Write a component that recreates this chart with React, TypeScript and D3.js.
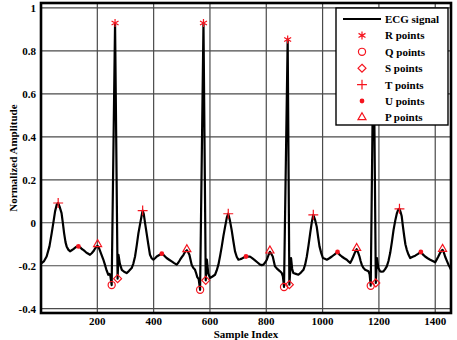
import React, { useEffect, useRef } from 'react';
import * as d3 from 'd3';

// ECG trace: sample index and normalized amplitude
const ecgSample = [
  0, 10, 20, 30, 38, 45, 50, 56, 61, 66, 73, 78, 82, 87, 91, 97, 103, 109, 115, 122,
  128, 133, 140, 145, 150, 158, 165, 174, 180, 186, 192, 197, 201, 206, 210, 215, 221, 227, 233, 239,
  243, 246, 251, 263, 272, 275, 280, 287, 295, 304, 312, 322, 328, 334, 340, 346, 352, 358, 361, 365,
  370, 375, 381, 387, 393, 399, 405, 411, 420, 429, 437, 446, 455, 464, 473, 482, 488, 494, 500, 506,
  512, 518, 523, 527, 531, 535, 541, 547, 551, 555, 560, 565, 577, 585, 589, 594, 600, 609, 618, 624,
  630, 636, 642, 648, 654, 660, 665, 671, 677, 683, 689, 695, 701, 707, 713, 720, 728, 735, 742, 751,
  760, 769, 778, 784, 790, 796, 802, 808, 813, 818, 823, 827, 831, 837, 843, 849, 855, 859, 863, 876,
  882, 888, 892, 896, 905, 914, 923, 932, 938, 944, 950, 956, 962, 967, 973, 979, 984, 989, 995, 1001,
  1008, 1015, 1024, 1033, 1043, 1053, 1060, 1068, 1077, 1086, 1092, 1098, 1104, 1109, 1115, 1121, 1126, 1131, 1135, 1139,
  1145, 1151, 1157, 1163, 1167, 1171, 1181, 1189, 1193, 1198, 1204, 1210, 1216, 1222, 1228, 1234, 1240, 1246, 1252, 1258,
  1264, 1269, 1273, 1277, 1281, 1285, 1290, 1294, 1299, 1305, 1311, 1320, 1329, 1339, 1349, 1356, 1364, 1373, 1382, 1391,
  1400, 1405, 1411, 1418, 1426, 1431, 1435, 1441, 1447, 1452, 1456
];
const ecgAmp = [
  -0.19, -0.18, -0.157, -0.11, -0.048, 0.01, 0.053, 0.085, 0.092, 0.075, 0.045, -0.005, -0.048, -0.09, -0.11, -0.125, -0.133, -0.128, -0.123, -0.115,
  -0.11, -0.11, -0.115, -0.122, -0.126, -0.135, -0.142, -0.149, -0.142, -0.133, -0.12, -0.11, -0.108, -0.118, -0.132, -0.149, -0.17, -0.195, -0.222, -0.242,
  -0.238, -0.245, -0.29, 0.93, -0.26, -0.149, -0.19, -0.219, -0.228, -0.234, -0.225, -0.211, -0.19, -0.157, -0.105, -0.048, -0.005, 0.037, 0.057, 0.04,
  -0.005, -0.048, -0.1, -0.149, -0.165, -0.172, -0.165, -0.157, -0.15, -0.144, -0.152, -0.164, -0.172, -0.18, -0.188, -0.195, -0.185, -0.172, -0.16, -0.149,
  -0.135, -0.128, -0.138, -0.149, -0.172, -0.195, -0.21, -0.219, -0.235, -0.253, -0.262, -0.312, 0.93, -0.268, -0.172, -0.235, -0.257, -0.25, -0.242, -0.222,
  -0.195, -0.155, -0.11, -0.06, -0.017, 0.025, 0.042, 0.01, -0.033, -0.085, -0.133, -0.158, -0.172, -0.17, -0.167, -0.162, -0.157, -0.158, -0.157, -0.166,
  -0.175, -0.185, -0.195, -0.197, -0.195, -0.185, -0.172, -0.15, -0.135, -0.145, -0.157, -0.18, -0.203, -0.212, -0.219, -0.226, -0.234, -0.25, -0.299, 0.853,
  -0.288, -0.164, -0.215, -0.234, -0.238, -0.242, -0.232, -0.219, -0.195, -0.157, -0.105, -0.048, 0.005, 0.037, 0.015, -0.017, -0.065, -0.11, -0.14, -0.164,
  -0.168, -0.172, -0.165, -0.157, -0.147, -0.136, -0.148, -0.157, -0.165, -0.172, -0.18, -0.187, -0.172, -0.157, -0.138, -0.123, -0.138, -0.157, -0.178, -0.195,
  -0.21, -0.219, -0.222, -0.226, -0.24, -0.293, 0.9, -0.28, -0.164, -0.21, -0.226, -0.228, -0.226, -0.216, -0.203, -0.178, -0.141, -0.09, -0.033, 0.01,
  0.045, 0.062, 0.065, 0.05, 0.03, -0.015, -0.064, -0.1, -0.126, -0.148, -0.164, -0.158, -0.153, -0.145, -0.136, -0.147, -0.157, -0.165, -0.172, -0.178,
  -0.184, -0.172, -0.157, -0.138, -0.126, -0.14, -0.157, -0.176, -0.195, -0.207, -0.219
];

// Detected fiducial points
const rSample = [263, 577, 876, 1181];
const rAmp = [0.93, 0.93, 0.853, 0.9];
const qSample = [251, 565, 863, 1171];
const qAmp = [-0.29, -0.312, -0.299, -0.293];
const sSample = [272, 585, 882, 1189];
const sAmp = [-0.26, -0.268, -0.288, -0.28];
const tSample = [61, 361, 665, 967, 1273];
const tAmp = [0.092, 0.057, 0.042, 0.037, 0.065];
const uSample = [133, 429, 728, 1053, 1349];
const uAmp = [-0.11, -0.144, -0.157, -0.136, -0.136];
const pSample = [201, 518, 813, 1121, 1426];
const pAmp = [-0.1, -0.124, -0.13, -0.118, -0.122];

const xTicks = [200, 400, 600, 800, 1000, 1200, 1400];
const yTicks = [-0.4, -0.2, 0, 0.2, 0.4, 0.6, 0.8, 1];

const legendLabels = ['ECG signal', 'R points', 'Q points', 'S points', 'T points', 'U points', 'P points'];

const App: React.FC = () => {
  const svgRef = useRef<SVGSVGElement>(null);

  useEffect(() => {
    const svg = d3.select(svgRef.current);
    svg.selectAll('*').remove();

    const width = 457;
    const height = 340;
    const margin = { top: 3, right: 6, bottom: 27, left: 41 };
    const font = "'Liberation Serif', 'Times New Roman', serif";
    const red = '#f5141e';

    const xScale = d3.scaleLinear().domain([0, 1456]).range([margin.left, width - margin.right]);
    const yScale = d3.scaleLinear().domain([-0.42, 1.023]).range([height - margin.bottom, margin.top]);

    svg.attr('width', width).attr('height', height);

    svg.append('rect')
      .attr('width', width)
      .attr('height', height)
      .attr('fill', '#fff');

    const [x0, x1] = xScale.range();
    const [y0, y1] = yScale.range();

    svg.append('clipPath')
      .attr('id', 'plot-clip')
      .append('rect')
      .attr('x', x0)
      .attr('y', y1)
      .attr('width', x1 - x0)
      .attr('height', y0 - y1);

    // Grid
    const grid = svg.append('g').attr('stroke', '#4a4a4a').attr('stroke-width', 1.2);
    grid.selectAll('line.gx')
      .data(xTicks)
      .enter().append('line')
      .attr('x1', d => xScale(d))
      .attr('x2', d => xScale(d))
      .attr('y1', y1)
      .attr('y2', y0);
    grid.selectAll('line.gy')
      .data(yTicks)
      .enter().append('line')
      .attr('x1', x0)
      .attr('x2', x1)
      .attr('y1', d => yScale(d))
      .attr('y2', d => yScale(d));

    // Signal
    const points: [number, number][] = ecgSample.map((s, i) => [s, ecgAmp[i]]);
    const line = d3.line<[number, number]>()
      .x(d => xScale(d[0]))
      .y(d => yScale(d[1]));

    svg.append('path')
      .datum(points)
      .attr('clip-path', 'url(#plot-clip)')
      .attr('d', line)
      .attr('fill', 'none')
      .attr('stroke', '#000')
      .attr('stroke-width', 2.2)
      .attr('stroke-linejoin', 'round');

    // Fiducial markers
    const symbolStyles = [
      { type: d3.symbolAsterisk, size: 45, fill: 'none' },
      { type: d3.symbolCircle, size: 40, fill: 'none' },
      { type: d3.symbolDiamond2, size: 40, fill: 'none' },
      { type: d3.symbolPlus, size: 34, fill: 'none' },
      { type: d3.symbolCircle, size: 18, fill: red },
      { type: d3.symbolTriangle2, size: 46, fill: 'none' }
    ];
    const markerSets = [
      { xs: rSample, ys: rAmp },
      { xs: qSample, ys: qAmp },
      { xs: sSample, ys: sAmp },
      { xs: tSample, ys: tAmp },
      { xs: uSample, ys: uAmp },
      { xs: pSample, ys: pAmp }
    ];

    const drawSymbol = (g: d3.Selection<SVGGElement, unknown, null, undefined>, idx: number, cx: number, cy: number) => {
      const st = symbolStyles[idx];
      g.append('path')
        .attr('d', d3.symbol().type(st.type).size(st.size)())
        .attr('transform', `translate(${cx},${cy})`)
        .attr('fill', st.fill)
        .attr('stroke', st.fill === 'none' ? red : 'none')
        .attr('stroke-width', 1.2);
    };

    const markers = svg.append('g');
    markerSets.forEach((set, idx) => {
      set.xs.forEach((s, i) => drawSymbol(markers, idx, xScale(s), yScale(set.ys[i])));
    });

    // Frame
    svg.append('rect')
      .attr('x', x0)
      .attr('y', y1)
      .attr('width', x1 - x0)
      .attr('height', y0 - y1)
      .attr('fill', 'none')
      .attr('stroke', '#000')
      .attr('stroke-width', 2.6);

    // Tick labels
    svg.append('g')
      .selectAll('text')
      .data(xTicks)
      .enter().append('text')
      .attr('x', d => xScale(d))
      .attr('y', 325)
      .attr('text-anchor', 'middle')
      .attr('font-family', font)
      .attr('font-weight', 'bold')
      .attr('font-size', 11)
      .text(d => String(d));

    svg.append('g')
      .selectAll('text')
      .data(yTicks)
      .enter().append('text')
      .attr('x', 36)
      .attr('y', d => yScale(d) + 4)
      .attr('text-anchor', 'end')
      .attr('font-family', font)
      .attr('font-weight', 'bold')
      .attr('font-size', 11)
      .text(d => String(d));

    // Axis titles
    svg.append('text')
      .attr('x', (x0 + x1) / 2)
      .attr('y', 338)
      .attr('text-anchor', 'middle')
      .attr('font-family', font)
      .attr('font-weight', 'bold')
      .attr('font-size', 11)
      .text('Sample Index');

    svg.append('text')
      .attr('transform', `translate(17,${(y0 + y1) / 2}) rotate(-90)`)
      .attr('text-anchor', 'middle')
      .attr('font-family', font)
      .attr('font-weight', 'bold')
      .attr('font-size', 11)
      .text('Normalized Amplitude');

    // Legend
    const legend = svg.append('g');
    legend.append('rect')
      .attr('x', 336)
      .attr('y', 8)
      .attr('width', 112)
      .attr('height', 117)
      .attr('fill', '#fff')
      .attr('stroke', '#000')
      .attr('stroke-width', 1.4);

    legendLabels.forEach((label, i) => {
      const cy = 19 + i * 16.4;
      if (i === 0) {
        legend.append('line')
          .attr('x1', 343)
          .attr('x2', 381)
          .attr('y1', cy)
          .attr('y2', cy)
          .attr('stroke', '#000')
          .attr('stroke-width', 2);
      } else {
        drawSymbol(legend, i - 1, 362, cy);
      }
      legend.append('text')
        .attr('x', 385)
        .attr('y', cy + 4)
        .attr('font-family', font)
        .attr('font-weight', 'bold')
        .attr('font-size', 11)
        .text(label);
    });
  }, []);

  return <svg ref={svgRef} style={{ position: 'absolute', left: 0, top: 0 }} />;
};

export default App;
